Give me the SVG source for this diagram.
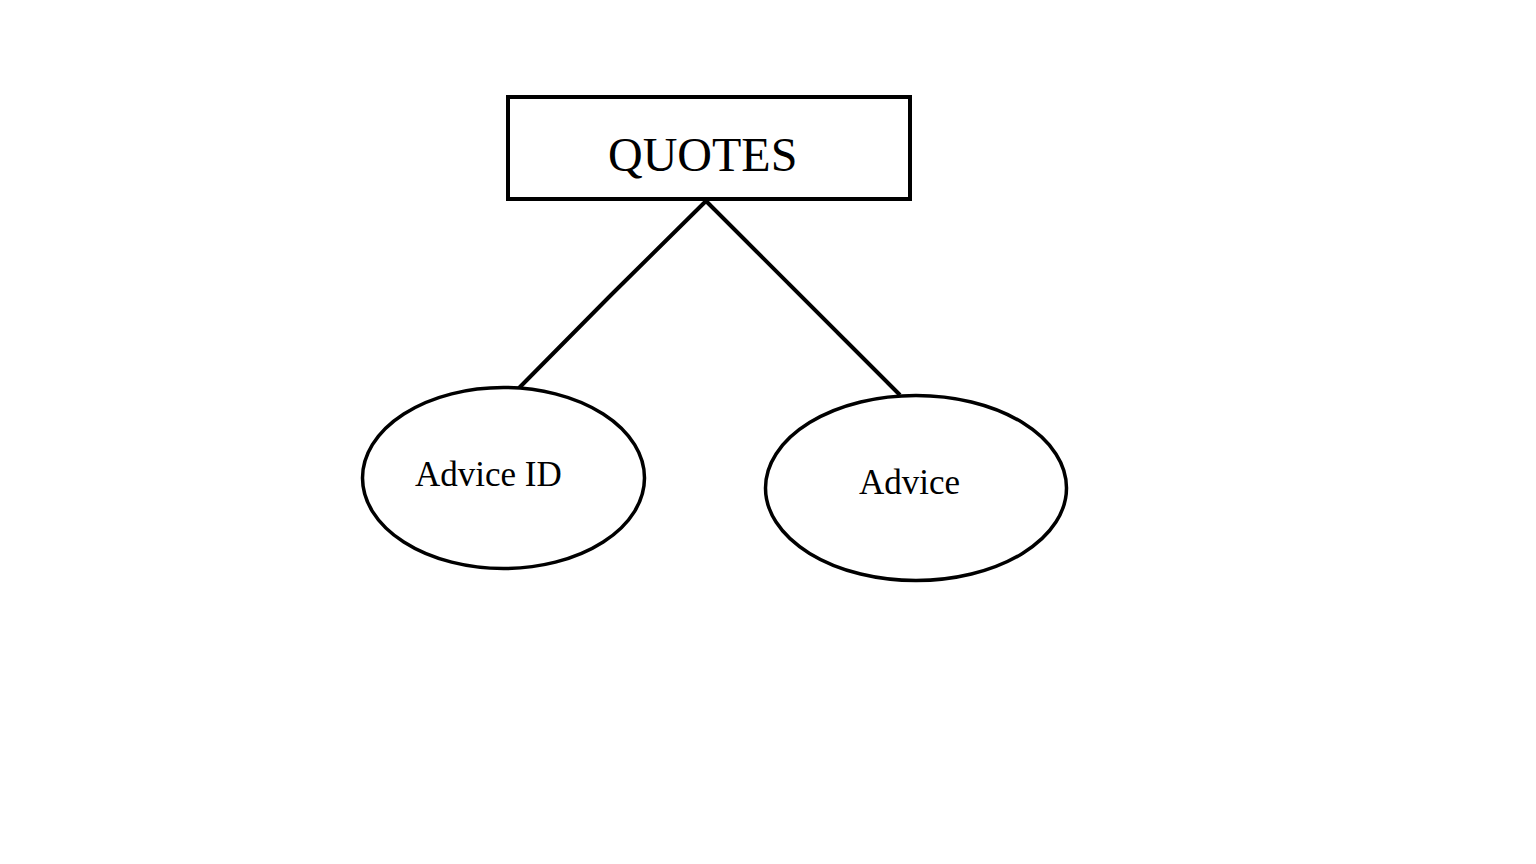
<svg xmlns="http://www.w3.org/2000/svg" width="1536" height="864" viewBox="0 0 1536 864">
<style>
.shape{fill:#fff;stroke:#000}
.lbl{font-family:"Liberation Serif","Times New Roman",serif;fill:#000}
.conn{stroke:#000;stroke-width:4;fill:none}
</style>
<rect x="0" y="0" width="1536" height="864" fill="#fff"/>
<g id="connectors">
<polyline class="conn" points="706,201 611,295 519,388"/>
<line class="conn" x1="706" y1="201" x2="900" y2="395"/>
</g>
<g id="quotes">
<rect class="shape" x="508" y="97" width="402" height="102" stroke-width="4"/>
<text class="lbl" x="608" y="171" font-size="48">QUOTES</text>
</g>
<g id="advice-id">
<ellipse class="shape" cx="503.5" cy="478" rx="141" ry="90.5" stroke-width="3.5"/>
<text class="lbl" x="415" y="486" font-size="35">Advice ID</text>
</g>
<g id="advice">
<ellipse class="shape" cx="916" cy="488" rx="150.5" ry="92.5" stroke-width="3.5"/>
<text class="lbl" x="859" y="494" font-size="35">Advice</text>
</g>
</svg>
